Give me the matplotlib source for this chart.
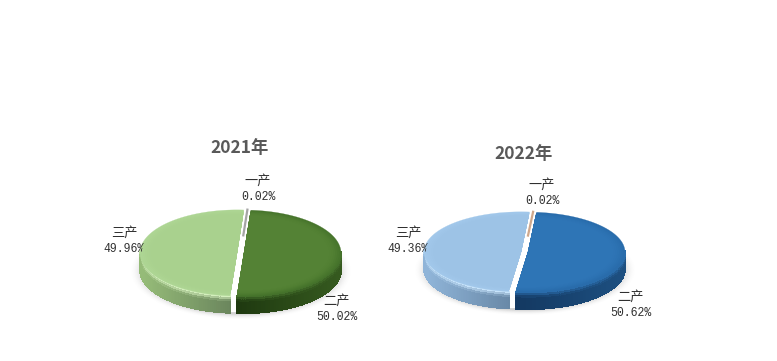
import numpy as np
import matplotlib
matplotlib.use('Agg')
import matplotlib.pyplot as plt
from matplotlib.collections import PolyCollection
from matplotlib.colors import to_rgb
from matplotlib.patches import Polygon

plt.rcParams['font.family'] = ['Noto Sans CJK SC', 'DejaVu Sans']

# 数据
categories = ['一产', '二产', '三产']
years = ['2021年', '2022年']
values_2021 = [0.02, 50.02, 49.96]
values_2022 = [0.02, 50.62, 49.36]

# 每块的颜色: 顶面, 顶面边缘, 侧面(左), 侧面(右), 侧面高光
colors_2021 = [
    ('#a5a5a5', '#a5a5a5', '#808080', '#808080', '#a5a5a5'),
    ('#548235', '#47752c', '#1f3a10', '#35591f', '#44702b'),
    ('#a9d18e', '#aed695', '#95bb78', '#66805a', '#d4efbd'),
]
colors_2022 = [
    ('#cfa88c', '#cfa88c', '#a08060', '#a08060', '#cfa88c'),
    ('#2e75b6', '#296cab', '#143a63', '#1d4f80', '#2a6cab'),
    ('#9dc3e6', '#a3c9eb', '#8fb4d8', '#62819e', '#c8e4fb'),
]

fig = plt.figure(figsize=(7.77, 3.61), dpi=100, facecolor='white')
ax = fig.add_axes([0, 0, 1, 1])
ax.set_xlim(0, 777)
ax.set_ylim(361, 0)
ax.axis('off')


def mix(c1, c2, k):
    return tuple((1 - k) * a + k * b for a, b in zip(to_rgb(c1), to_rgb(c2)))


def ell(cx, cy, rx, ry, t):
    return cx + rx * np.sin(t), cy - ry * np.cos(t)


def draw_shadow(cx, cy, rx, ry, depth):
    xs = np.arange(cx - rx - 25, cx + rx + 25)
    ys = np.arange(cy - ry, cy + ry + depth + 25)
    xx, yy = np.meshgrid(xs, ys)
    d = np.sqrt(((xx - cx) / (rx + 5)) ** 2 + ((yy - cy - depth - 1) / (ry + 2)) ** 2)
    alpha = np.clip((1.10 - d) / 0.14, 0, 1) ** 2 * 0.32
    # 饼内部的缝隙保持白色
    inside = (((xx - cx) / rx) ** 2 + ((yy - cy - depth) / ry) ** 2 < 1) | (
        (np.abs(xx - cx) < rx) & (yy < cy + depth))
    alpha[inside] = 0
    img = np.zeros(d.shape + (4,))
    img[..., :3] = 0.45
    img[..., 3] = alpha
    ax.imshow(img, extent=(xs[0], xs[-1], ys[-1], ys[0]), aspect='auto', zorder=1)
    ax.set_xlim(0, 777)
    ax.set_ylim(361, 0)


def draw_pie(cx, cy, rx, ry, depth, start, explode, values, colors):
    draw_shadow(cx, cy, rx, ry, depth)
    total = sum(values)
    t0 = np.radians(start)
    for i, (v, c) in enumerate(zip(values, colors)):
        t1 = t0 + v / total * 2 * np.pi
        mid = (t0 + t1) / 2
        ox = explode[i] * np.sin(mid)
        oy = -explode[i] * np.cos(mid) * ry / rx
        apx, apy = cx + ox, cy + oy
        tt = np.linspace(t0, t1, 160)

        # 侧面
        vis = tt[np.cos(tt) < 0.05]
        if i > 0 and len(vis) > 1:
            polys, faces = [], []
            bands = np.linspace(0, 1, 9)
            for a, b in zip(vis[:-1], vis[1:]):
                xa, ya = ell(apx, apy, rx, ry, a)
                xb, yb = ell(apx, apy, rx, ry, b)
                if i == 1:
                    h = np.clip((xa - cx) / rx, 0, 1)
                else:
                    h = np.clip((xa - (cx - rx)) / rx, 0, 1)
                side = mix(c[2], c[3], h)
                for s0, s1 in zip(bands[:-1], bands[1:]):
                    polys.append([(xa, ya + s0 * depth), (xb, yb + s0 * depth),
                                  (xb, yb + s1 * depth), (xa, ya + s1 * depth)])
                    faces.append(mix(c[4], side, min(s0 / 0.3, 1)))
            ax.add_collection(PolyCollection(polys, facecolors=faces, edgecolors=faces,
                                             linewidths=0.6, antialiaseds=False, zorder=2))

        # 顶面
        if i == 0:
            x0, y0 = ell(apx, apy, rx * 0.35, ry * 0.35, mid)
            x1, y1 = ell(apx, apy, rx, ry, mid)
            ax.plot([x0, x1], [y0, y1], color=c[0], lw=1.6, zorder=5,
                    solid_capstyle='butt')
        else:
            for s in np.linspace(1, 0.86, 8):
                k = (s - 0.86) / 0.14
                xs, ys = ell(apx, apy, rx * s, ry * s, tt)
                pts = np.column_stack([np.r_[apx, xs], np.r_[apy, ys]])
                fc = mix(c[0], c[1], k ** 2)
                ax.add_patch(Polygon(pts, closed=True, facecolor=fc, edgecolor=fc,
                                     linewidth=0.2, zorder=3 + (1 - s)))
        t0 = t1


def draw_labels(title_xy, label_xy, title, values):
    ax.text(*title_xy, title, ha='center', va='center', fontsize=12.5,
            fontweight='bold', color='#595959')
    for (x, y), name, v in zip(label_xy, categories, values):
        ax.text(x, y, name, ha='center', va='center', fontsize=9.5, color='#303030')
        ax.text(x, y + 16, f'{v:.2f}%', ha='center', va='center', fontsize=8.3,
                color='#303030', family=['Liberation Mono'])


draw_pie(240.5, 253, 97, 43, 17, 4, [3.5, 3.5, 3.5], values_2021, colors_2021)
draw_pie(524.5, 252, 97, 40, 17, 5, [3.5, 3.5, 3.5], values_2022, colors_2022)

draw_labels((240, 148), [(258, 181), (337, 301), (124, 233)], years[0], values_2021)
draw_labels((524, 154), [(542, 185), (631, 297), (408, 233)], years[1], values_2022)

fig.savefig('out.png', dpi=100)
